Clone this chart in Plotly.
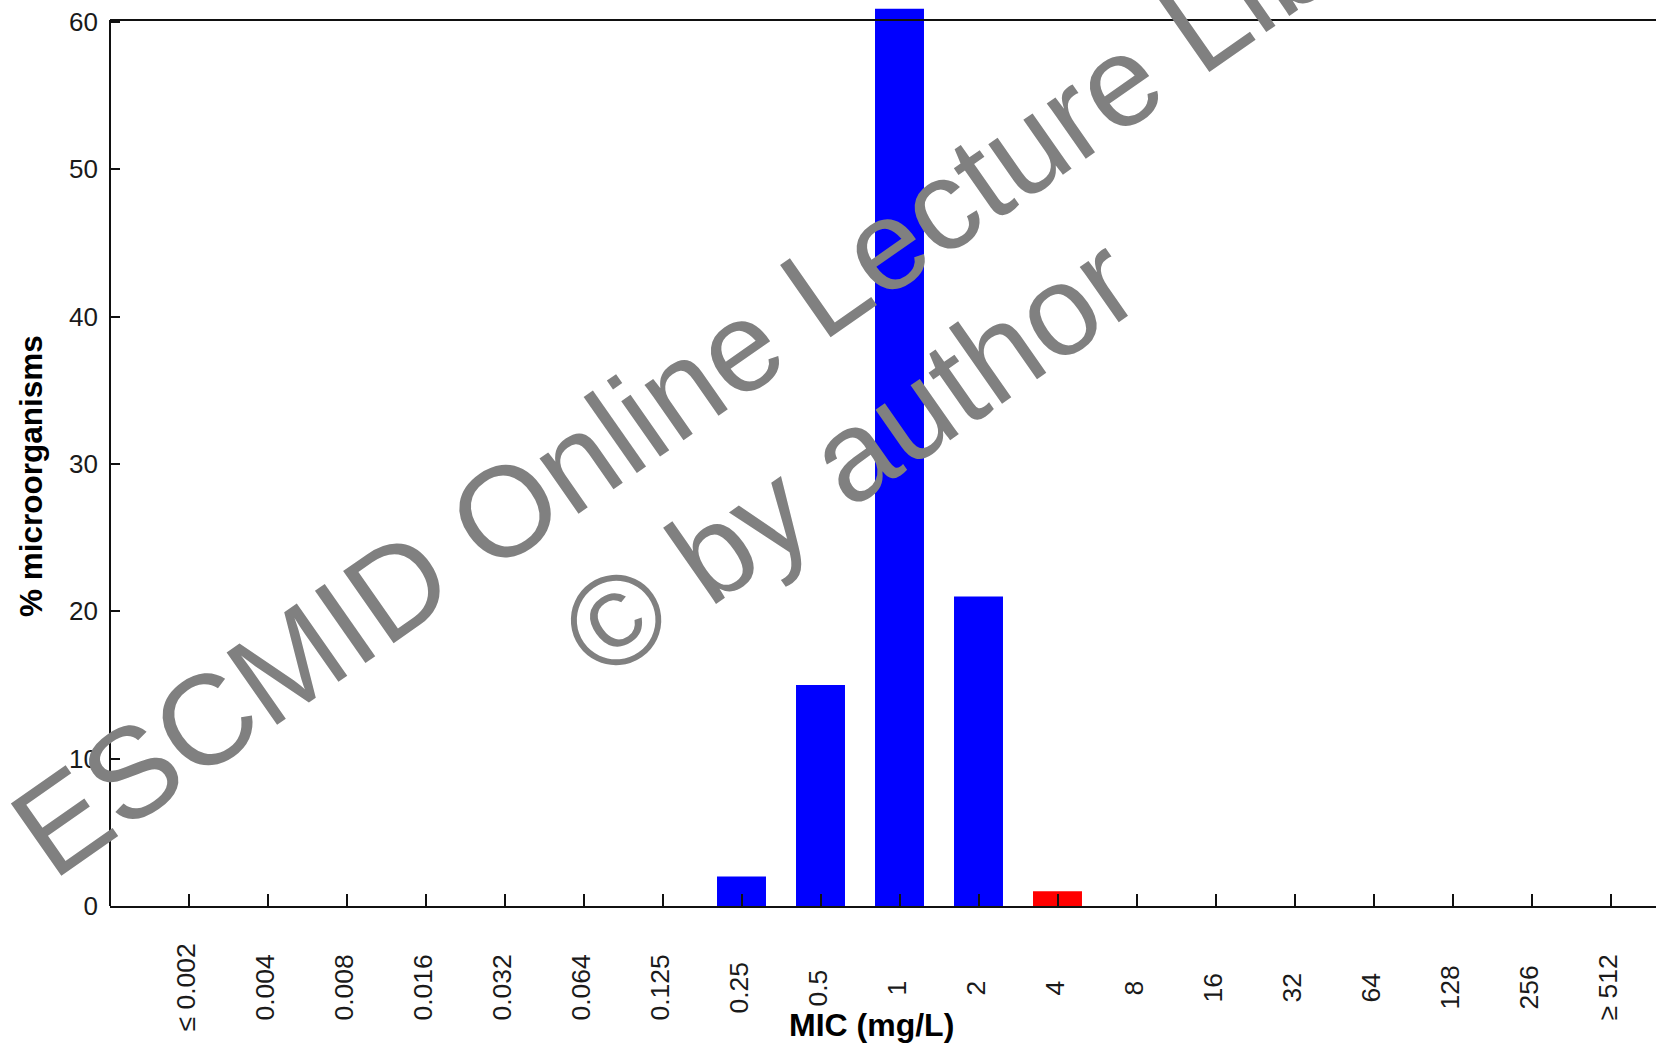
import plotly.graph_objects as go

# MIC distribution: share of isolates (%) at each MIC value
mic_labels = ["≤ 0.002", "0.004", "0.008", "0.016", "0.032", "0.064", "0.125",
              "0.25", "0.5", "1", "2", "4", "8", "16", "32", "64", "128", "256", "≥ 512"]
pct_isolates = [0, 0, 0, 0, 0, 0, 0, 2, 15, 60.9, 21, 1, 0, 0, 0, 0, 0, 0, 0]
resistant_from = "4"          # first MIC value drawn in the resistant colour
y_ticks = [0, 10, 20, 30, 40, 50, 60]
y_frame_top = 60.14           # height of the top frame line

W, H = 1656, 1046
ML, MR, MT, MB = 110, 0, 7, 140
PLOT_W, PLOT_H = W - ML - MR, H - MT - MB
PX_PER_UNIT = 884 / 60.0


def fx(px):
    return (px - ML) / PLOT_W


def fy(py):
    return (H - MB - py) / PLOT_H


cut = mic_labels.index(resistant_from)
bar_colors = ["#0000ff" if i < cut else "#ff0000" for i in range(len(mic_labels))]

font_family = "Liberation Sans, Arial, sans-serif"

fig = go.Figure(
    go.Bar(
        x=mic_labels,
        y=pct_isolates,
        width=0.62,
        marker=dict(color=bar_colors, line=dict(width=0)),
        hoverinfo="x+y",
    )
)

annotations = []
# rotated MIC labels, centred under each tick (positioned by category index)
for i, lab in enumerate(mic_labels):
    annotations.append(dict(
        x=i, xref="x", y=fy(988), yref="paper",
        text=lab, showarrow=False, textangle=-90,
        xanchor="center", yanchor="middle", xshift=-3,
        font=dict(family=font_family, size=26.5, color="#1a1a1a"),
    ))

# axis titles
annotations.append(dict(
    x=fx(871), xref="paper", y=fy(1025), yref="paper",
    text="<b>MIC (mg/L)</b>", showarrow=False,
    xanchor="center", yanchor="middle",
    font=dict(family=font_family, size=32, color="#000000"),
))
annotations.append(dict(
    x=fx(31), xref="paper", y=fy(476), yref="paper",
    text="<b>% microorganisms</b>", showarrow=False, textangle=-90,
    xanchor="center", yanchor="middle",
    font=dict(family=font_family, size=31.5, color="#000000"),
))

# watermark
wm_font = dict(family=font_family, size=128, color="#808080")
annotations.append(dict(
    x=fx(761), xref="paper", y=fy(331), yref="paper",
    text="ESCMID Online Lecture Library", showarrow=False, textangle=-35,
    xanchor="center", yanchor="middle", font=wm_font,
))
annotations.append(dict(
    x=fx(849), xref="paper", y=fy(456), yref="paper",
    text="© by author", showarrow=False, textangle=-35,
    xanchor="center", yanchor="middle", font=wm_font,
))

shapes = [
    # left axis line and top frame line
    dict(type="line", xref="paper", yref="y", x0=0, x1=0, y0=0, y1=y_frame_top,
         line=dict(color="#111111", width=2)),
    dict(type="line", xref="paper", yref="y", x0=0, x1=1, y0=y_frame_top, y1=y_frame_top,
         line=dict(color="#111111", width=2)),
]

fig.update_layout(
    width=W, height=H,
    margin=dict(l=ML, r=MR, t=MT, b=MB, pad=0),
    paper_bgcolor="white", plot_bgcolor="white",
    showlegend=False,
    font=dict(family=font_family, color="#1a1a1a"),
    annotations=annotations,
    shapes=shapes,
    xaxis=dict(
        type="category",
        categoryorder="array", categoryarray=mic_labels,
        range=[-(188.5 - ML) / 79.0, (W - MR - 188.5) / 79.0],
        showticklabels=False,
        ticks="inside", ticklen=12, tickwidth=1.5, tickcolor="#111111",
        showline=True, linecolor="#111111", linewidth=2,
        showgrid=False, zeroline=False, fixedrange=True,
    ),
    yaxis=dict(
        range=[0, PLOT_H / PX_PER_UNIT],
        tickmode="array", tickvals=y_ticks, ticktext=[str(v) for v in y_ticks],
        ticks="inside", ticklen=10, tickwidth=1.5, tickcolor="#111111",
        ticklabelstandoff=11,
        tickfont=dict(family=font_family, size=26, color="#1a1a1a"),
        showline=False, showgrid=False, zeroline=False, fixedrange=True,
    ),
)

fig.write_html("out.html")
